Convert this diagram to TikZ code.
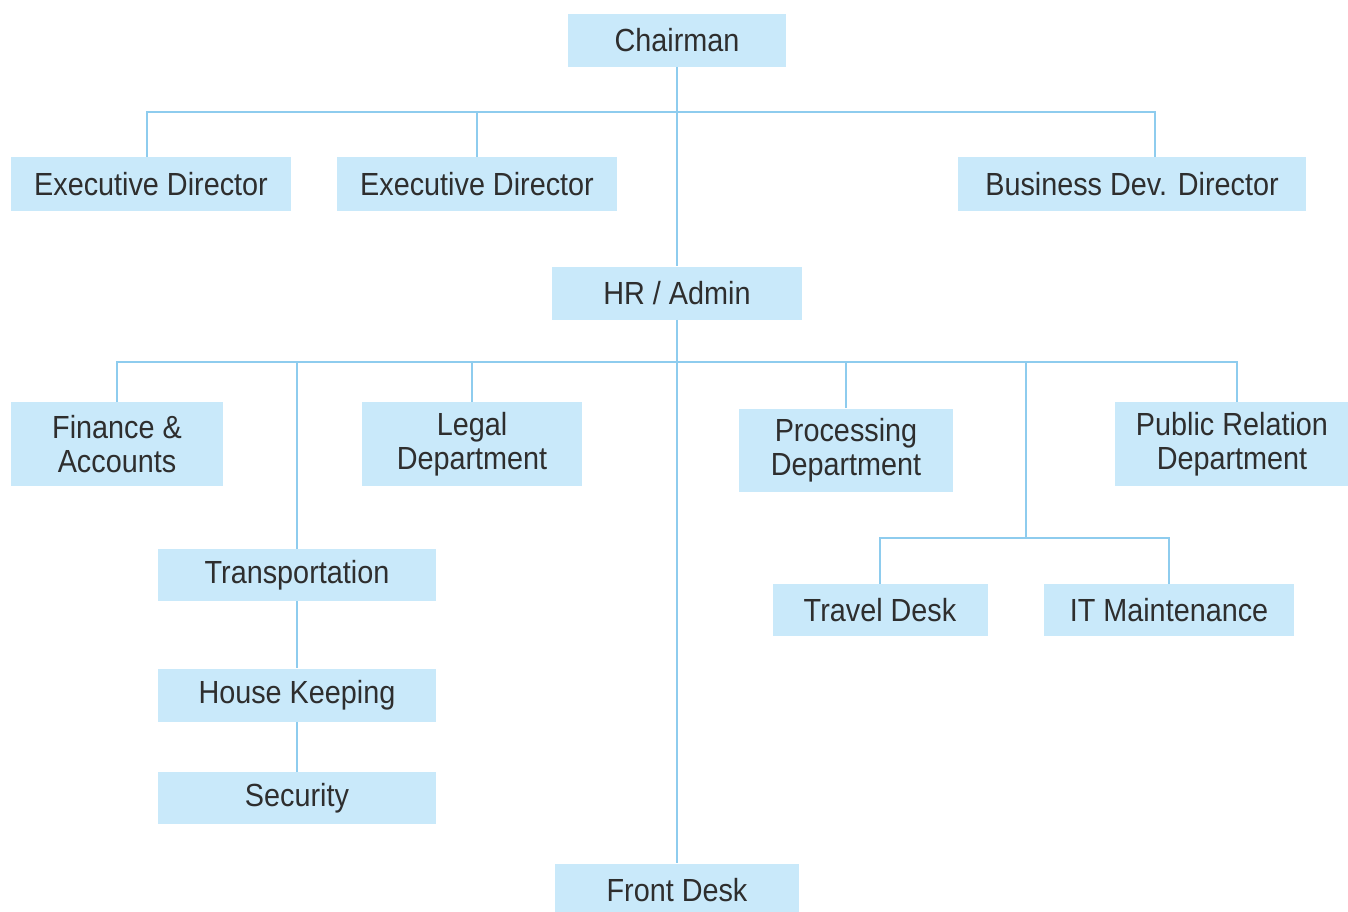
\documentclass[tikz,border=0pt]{standalone}
\usepackage{fontspec}
\setmainfont{Liberation Sans}[FakeStretch=0.9]
\usepackage{xcolor}
\usetikzlibrary{calc}
\definecolor{boxblue}{HTML}{C9E9FA}
\definecolor{lineblue}{HTML}{8ECCEE}
\definecolor{textgray}{HTML}{2E2E2E}

\begin{document}
\begin{tikzpicture}[x = 0.5pt, y = -0.5pt,
    box/.style = {fill = boxblue, text = textgray, inner sep = 0pt, align = center,
        font = \fontsize{16}{17}\selectfont},
    bar/.style = {draw = lineblue, line width = 1pt}]
    \useasboundingbox [fill = white] (0, 0) rectangle (1348, 911);
    % top rows
    \node [box, minimum width = 109pt, minimum height = 26.5pt] (chairman) at (677, 40) {Chairman};
    \node [box, minimum width = 140pt, minimum height = 27pt] (execa) at (151, 184) {Executive Director};
    \node [box, minimum width = 140pt, minimum height = 27pt] (execb) at (477, 184) {Executive Director};
    \node [box, minimum width = 174pt, minimum height = 27pt] (bizdev) at (1132, 184) {Business Dev. Director};
    \node [box, minimum width = 125pt, minimum height = 26.5pt] (hradmin) at (677, 293) {HR / Admin};
    % departments
    \node [box, minimum width = 106pt, minimum height = 42pt] (finance) at (117, 444) {Finance \&\\Accounts};
    \node [box, minimum width = 110pt, minimum height = 42pt] (legal) at (472, 444) {Legal\\Department};
    \node [box, minimum width = 107pt, minimum height = 41.5pt] (processing) at (846, 450) {Processing\\Department};
    \node [box, minimum width = 117pt, minimum height = 42pt] (pubrel) at (1232, 444) {Public Relation\\Department};
    \node [box, minimum width = 139pt, minimum height = 26pt] (transport) at (297, 575) {Transportation};
    \node [box, minimum width = 139pt, minimum height = 26.5pt] (housekeep) at (297, 695) {House Keeping};
    \node [box, minimum width = 139pt, minimum height = 26pt] (security) at (297, 798) {Security};
    \node [box, minimum width = 107.5pt, minimum height = 26pt] (travel) at (880, 610) {Travel Desk};
    \node [box, minimum width = 125pt, minimum height = 26pt] (itmaint) at (1169, 610) {IT Maintenance};
    \node [box, minimum width = 122pt, minimum height = 26.5pt] (frontdesk) at (677, 890) {Front Desk};
    % connectors
    \coordinate (topbus) at (677, 112);
    \coordinate (midbus) at (677, 362);
    \coordinate (itbus) at (1026, 538);
    \draw [bar] (chairman.south) -- (hradmin.north);
    \draw [bar] (hradmin.south) -- (frontdesk.north);
    \draw [bar] ([xshift = -2pt]execa.north) |- (topbus) -| ([xshift = 11.5pt]bizdev.north);
    \draw [bar] (execb.north) -- (execb.north |- topbus);
    \draw [bar] (finance.north) |- (midbus) -| ([xshift = 2.5pt]pubrel.north);
    \draw [bar] (legal.north) -- (legal.north |- midbus);
    \draw [bar] (processing.north) -- (processing.north |- midbus);
    \draw [bar] (transport.north) -- (transport.north |- midbus);
    \draw [bar] (transport.south) -- (housekeep.north);
    \draw [bar] (housekeep.south) -- (security.north);
    \draw [bar] (itbus) -- (itbus |- midbus);
    \draw [bar] (travel.north) |- (itbus) -| (itmaint.north);
\end{tikzpicture}
\end{document}
